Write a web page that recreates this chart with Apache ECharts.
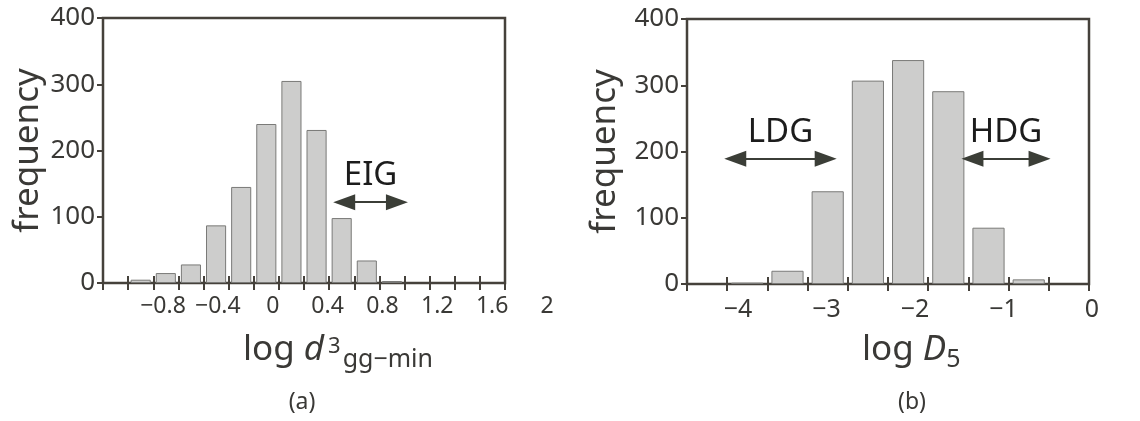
<!DOCTYPE html>
<html>
<head>
<meta charset="utf-8">
<script src="https://cdn.jsdelivr.net/npm/echarts@6/dist/echarts.min.js"></script>
<style>html,body{margin:0;padding:0;background:#fff;}#c{width:1140px;height:421px;}</style>
</head>
<body>
<div id="c"></div>
<script>
// ---- data ----
// (a) histogram of log d^3_gg-min : bin index (0..15 on the frame) and frequency
const binsA = [1, 2, 3, 4, 5, 6, 7, 8, 9, 10, 11];
const freqA = [5, 15, 28, 87, 145, 240, 305, 231, 98, 34, 3];
const tickLabelsA = ['\u22120.8', '\u22120.4', '0', '0.4', '0.8', '1.2', '1.6', '2'];
// (b) histogram of log D5 : bin index (0..9 on the frame) and frequency
const binsB = [1, 2, 3, 4, 5, 6, 7, 8];
const freqB = [2, 20, 140, 307, 338, 291, 85, 7];
const tickLabelsB = ['\u22124', '\u22123', '\u22122', '\u22121', '0'];

const FONT = '"Noto Sans", "Open Sans", sans-serif';
const TXT = '#3a3936';
const FRAME = '#45413b';
const ARROW = '#3b3e37';

function hist(bins, freq) { return bins.map((b, i) => [b + 0.5, freq[i]]); }

const chart = echarts.init(document.getElementById('c'), null, { renderer: 'canvas' });

const gridBase = { show: true, borderColor: FRAME, borderWidth: 2.5, backgroundColor: 'transparent' };

function frameAxesX(gridIndex, nBins) {
  return [
    { type: 'value', gridIndex, min: 0, max: nBins, interval: 1, position: 'bottom',
      axisLine: { show: false }, axisLabel: { show: false }, splitLine: { show: false },
      axisTick: { show: true, inside: true, length: 7, lineStyle: { color: FRAME, width: 2 } } },
    { type: 'value', gridIndex, min: 0, max: nBins, interval: 1, position: 'top',
      axisLine: { show: false }, axisLabel: { show: false }, splitLine: { show: false },
      axisTick: { show: true, inside: true, length: 7, lineStyle: { color: FRAME, width: 2 } } }
  ];
}
function frameAxesY(gridIndex, gap) {
  return [
    { type: 'value', gridIndex, min: 0, max: 400, interval: 100, position: 'left',
      name: 'frequency', nameLocation: 'middle', nameRotate: 90, nameGap: gap,
      nameTextStyle: { fontFamily: FONT, fontSize: 35, color: TXT },
      axisLine: { show: false }, axisTick: { show: false }, splitLine: { show: false },
      axisLabel: { show: true, margin: 8, fontFamily: FONT, fontSize: 26, color: TXT } },
    { type: 'value', gridIndex, min: 0, max: 400, interval: 100, position: 'right',
      axisLine: { show: false }, axisLabel: { show: false }, splitLine: { show: false },
      axisTick: { show: true, inside: true, length: 6, lineStyle: { color: FRAME, width: 2 } } }
  ];
}
function labelAxisX(gridIndex, labels, fontSize, margin) {
  return { type: 'category', gridIndex, data: labels, boundaryGap: false,
    axisLine: { show: false }, axisTick: { show: false }, splitLine: { show: false },
    axisLabel: { show: true, interval: 0, margin, fontFamily: FONT, fontSize, color: TXT } };
}
function hiddenY(gridIndex) {
  return { type: 'value', gridIndex, min: 0, max: 400, show: false };
}

function arrowLine(x1, x2, y, text) {
  return [{ coord: [x1, y], label: { show: true, formatter: text } }, { coord: [x2, y] }];
}

const markLineStyle = (data) => ({
  silent: true, animation: false,
  symbol: ['triangle', 'triangle'], symbolSize: [16, 22],
  lineStyle: { color: ARROW, width: 2, type: 'solid' },
  itemStyle: { color: ARROW },
  label: { show: true, position: 'insideMiddleTop', distance: 10,
    fontFamily: FONT, fontSize: 33, color: '#1c1c1c' },
  data
});

const barStyle = { color: '#cdcdcc', borderColor: '#7a7a78', borderWidth: 1 };

const option = {
  animation: false,
  grid: [
    Object.assign({ left: 103, top: 18, width: 402, height: 265 }, gridBase),
    Object.assign({ left: 687, top: 19, width: 402, height: 265 }, gridBase),
    { left: 163, top: 18, width: 384, height: 265, show: false },
    { left: 738, top: 19, width: 354, height: 265, show: false }
  ],
  xAxis: [
    ...frameAxesX(0, 16),
    ...frameAxesX(1, 10),
    labelAxisX(2, tickLabelsA, 23, 12),
    labelAxisX(3, tickLabelsB, 25, 13)
  ],
  yAxis: [
    ...frameAxesY(0, 57),
    ...frameAxesY(1, 64),
    hiddenY(2),
    hiddenY(3)
  ],
  series: [
    { type: 'bar', xAxisIndex: 0, yAxisIndex: 0, barWidth: '80%', itemStyle: barStyle,
      data: hist(binsA, freqA),
      markLine: markLineStyle([arrowLine(9.6, 11.7, 122, 'EIG')]) },
    { type: 'bar', xAxisIndex: 2, yAxisIndex: 2, barWidth: '80%', itemStyle: barStyle,
      data: hist(binsB, freqB),
      markLine: markLineStyle([arrowLine(1.2, 3.45, 189, 'LDG'), arrowLine(7.1, 8.77, 189, 'HDG')]) }
  ],
  graphic: [
    { type: 'text', x: 243, y: 328, silent: true,
      style: { text: '{n|log }{i|d}{sup|3}{sub|gg\u2212min}', fill: TXT,
        rich: {
          n: { fontFamily: FONT, fontSize: 35, lineHeight: 44, verticalAlign: 'middle', fill: TXT },
          i: { fontFamily: FONT, fontSize: 35, fontStyle: 'italic', lineHeight: 44, fill: TXT },
          sup: { fontFamily: FONT, fontSize: 22, verticalAlign: 'middle', lineHeight: 30, padding: [0, 2, 6, 4], fill: TXT },
          sub: { fontFamily: FONT, fontSize: 25, verticalAlign: 'bottom', lineHeight: 24, fill: TXT }
        } } },
    { type: 'text', x: 862, y: 328, silent: true,
      style: { text: '{n|log }{i|D}{sub|5}', fill: TXT,
        rich: {
          n: { fontFamily: FONT, fontSize: 35, lineHeight: 44, fill: TXT },
          i: { fontFamily: FONT, fontSize: 35, fontStyle: 'italic', lineHeight: 44, fill: TXT },
          sub: { fontFamily: FONT, fontSize: 25, verticalAlign: 'bottom', lineHeight: 24, fill: TXT }
        } } },
    { type: 'text', x: 302, y: 402, silent: true,
      style: { text: '(a)', fontFamily: FONT, fontSize: 23, fill: TXT, align: 'center', verticalAlign: 'middle' } },
    { type: 'text', x: 912, y: 402, silent: true,
      style: { text: '(b)', fontFamily: FONT, fontSize: 23, fill: TXT, align: 'center', verticalAlign: 'middle' } }
  ]
};
chart.setOption(option);
</script>
</body>
</html>
